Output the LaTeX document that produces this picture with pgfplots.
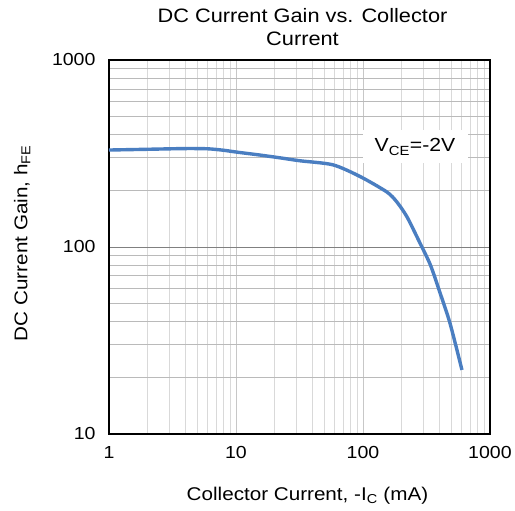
\documentclass[border=0pt]{standalone}
\usepackage{pgfplots}
\pgfplotsset{compat=1.18}
\usepackage{fontspec}
\setmainfont[FakeStretch=1.12]{Liberation Sans}
\definecolor{curve}{RGB}{74,126,193}
\begin{document}
\begin{tikzpicture}
\begin{axis}[
  scale only axis,
  width=381bp, height=374bp,
  xmode=log, ymode=log,
  xmin=1, xmax=1000, ymin=10, ymax=1000,
  xtick={1,10,100,1000}, xticklabels={1,10,100,1000},
  ytick={10,100,1000}, yticklabels={10,100,1000},
  major tick length=0pt, minor tick length=0pt,
  grid=both,
  major x grid style={draw=black!22, line width=0.9pt},
  minor x grid style={draw=black!15, line width=0.9pt},
  major y grid style={draw=black!50, line width=0.9pt},
  minor y grid style={draw=black!27, line width=0.9pt},
  axis line style={black, line width=1.1pt},
  tick label style={font=\fontsize{17.5}{20}\selectfont},
  xticklabel style={yshift=-9bp},
  yticklabel style={xshift=-10bp},
  title={DC Current Gain vs. Collector\\Current},
  title style={font=\fontsize{19.5}{22.5}\selectfont, align=center, at={(axis description cs:0.508,1.072)}, anchor=center},
  xlabel={Collector Current, -I\textsubscript{C} (mA)},
  ylabel={DC Current Gain, h\textsubscript{FE}},
  label style={font=\fontsize{18.5}{22}\selectfont},
  xlabel style={at={(axis description cs:0.521,-0.166)}, anchor=center},
  ylabel style={at={(axis description cs:-0.228,0.51)}, anchor=center},
]
\addplot[curve, line width=3.4bp, smooth, tension=0.45] coordinates {
(1,330) (2,333) (4,336) (6,335) (8,329) (10,322) (15,311) (22,300) (32,289) (58,275) (95,238) (154,197) (185,174) (222,145) (281,105) (340,80) (404,57) (484,39.2) (602,22)
};
\node[fill=white, inner sep=4bp, minimum width=105bp, minimum height=33bp, font=\fontsize{19}{22}\selectfont] at (axis cs:257,343) {V\textsubscript{CE}=-2V};
\coordinate (O) at (rel axis cs:0,0);
\end{axis}
\path (O) ++(-109bp,-77bp) rectangle ++(515bp,511bp);
\end{tikzpicture}
\end{document}
